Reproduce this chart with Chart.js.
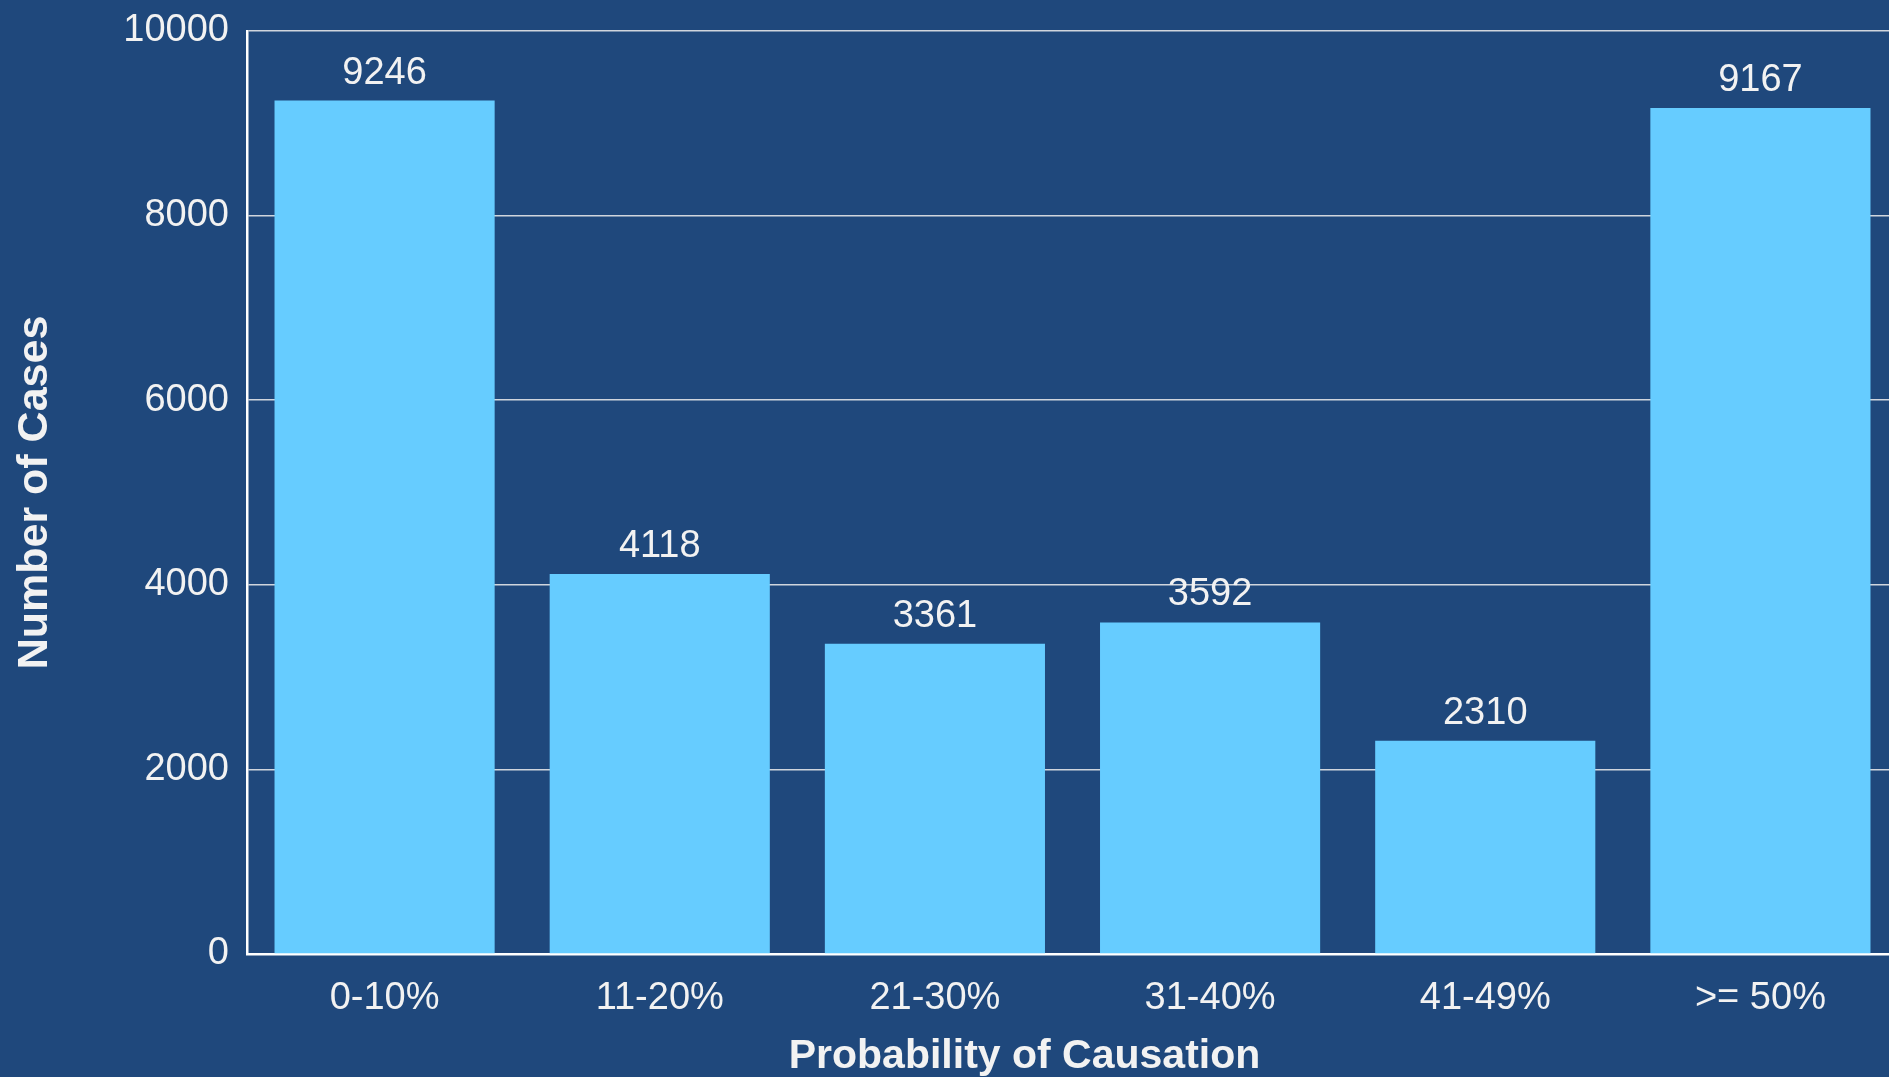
<!DOCTYPE html>
<html>
<head>
<meta charset="utf-8">
<script src="https://cdn.jsdelivr.net/npm/chart.js@4"></script>
<style>
  html, body { margin: 0; padding: 0; background: #1F487C; overflow: hidden; }
  #wrap { width: 1898px; height: 1077px; }
</style>
</head>
<body>
<div id="wrap"><canvas id="myChart"></canvas></div>
<script>
const categories = ['0-10%', '11-20%', '21-30%', '31-40%', '41-49%', '>= 50%'];
const cases = [9246, 4118, 3361, 3592, 2310, 9167];
const yTicks = [0, 2000, 4000, 6000, 8000, 10000];
const xTitle = 'Probability of Causation';

const textColor = '#F2F2F2';
const fontFamily = '"Liberation Sans", Arial, sans-serif';

// draws the count above each bar, and the x title (sits a bit left of centre in the original)
const barValues = {
    id: 'barValues',
    afterDatasetsDraw(chart) {
        const ctx = chart.ctx;
        const meta = chart.getDatasetMeta(0);
        ctx.save();
        ctx.fillStyle = textColor;
        ctx.font = '38px ' + fontFamily;
        ctx.textAlign = 'center';
        ctx.textBaseline = 'alphabetic';
        meta.data.forEach((bar, i) => {
            ctx.fillText(String(cases[i]), bar.x, bar.y - 17);
        });
        const xs = chart.scales.x;
        ctx.font = 'bold 41px ' + fontFamily;
        ctx.textBaseline = 'middle';
        ctx.fillText(xTitle, (xs.left + xs.right) / 2 - 48, 1057);
        ctx.restore();
    }
};

const ctx = document.getElementById('myChart');

new Chart(ctx, {
    type: 'bar',
    data: {
        labels: categories,
        datasets: [{
            label: 'Number of Cases',
            data: cases,
            backgroundColor: '#66CCFF',
            borderWidth: 0,
            categoryPercentage: 0.8,
            barPercentage: 1.0,
        }],
    },
    plugins: [barValues],
    options: {
        responsive: true,
        maintainAspectRatio: false,
        animation: false,
        layout: { autoPadding: false, padding: { top: 31, left: 0, right: 0, bottom: 0 } },
        plugins: {
            legend: { display: false },
            tooltip: { enabled: false },
        },
        scales: {
            x: {
                grid: { display: false, drawTicks: false },
                border: { color: '#FFFFFF', width: 2.5 },
                ticks: {
                    color: textColor,
                    padding: 22,
                    font: { family: fontFamily, size: 38 },
                },
                afterFit: (scale) => { scale.height = 123; },
            },
            y: {
                min: 0,
                max: 10000,
                afterBuildTicks: (scale) => { scale.ticks = yTicks.map(v => ({ value: v })); },
                grid: { color: '#D0D5DD', lineWidth: 1.5, drawTicks: false },
                border: { color: '#FFFFFF', width: 2.5 },
                ticks: {
                    color: textColor,
                    padding: 18,
                    font: { family: fontFamily, size: 38 },
                    callback: (v) => String(v),
                },
                title: {
                    display: true,
                    text: 'Number of Cases',
                    color: textColor,
                    font: { family: fontFamily, size: 43, weight: 'bold', lineHeight: 1.1 },
                    padding: { top: 11, bottom: 0 },
                },
                afterFit: (scale) => {
                    scale.width = 247;
                    scale.paddingTop = 0;
                    scale.paddingBottom = 0;
                },
            },
        },
    },
});
</script>
</body>
</html>
